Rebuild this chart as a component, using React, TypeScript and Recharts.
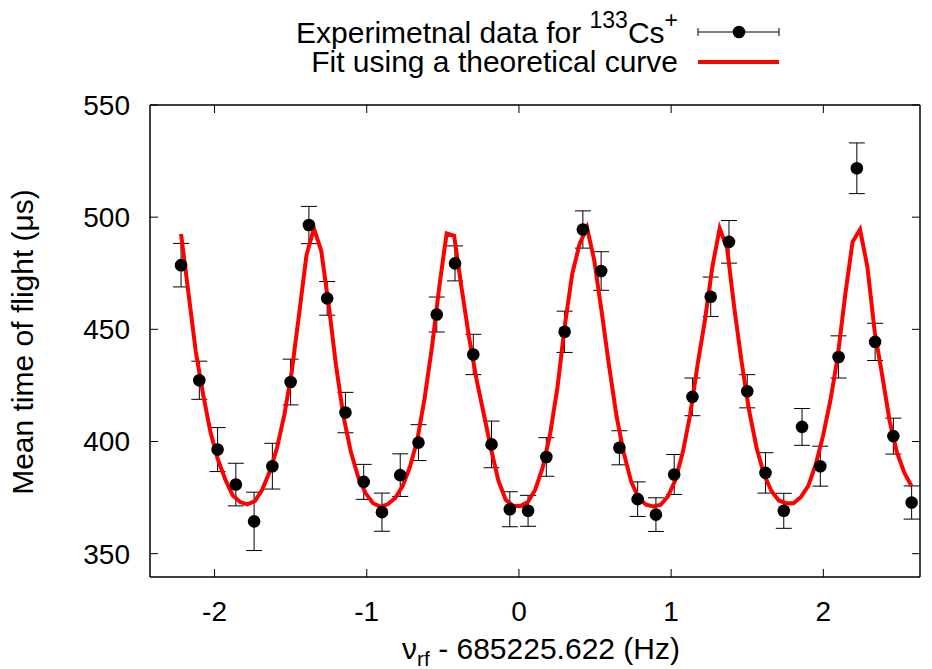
import React from "react";
import {
  ComposedChart,
  Line,
  Scatter,
  ErrorBar,
  XAxis,
  YAxis,
} from "recharts";

// measured points (x offset in Hz, mean TOF in µs, error)
const dataX = [
  -2.22, -2.1, -1.98, -1.86, -1.74, -1.62, -1.5, -1.38, -1.26, -1.14, -1.02,
  -0.9, -0.78, -0.66, -0.54, -0.42, -0.3, -0.18, -0.06, 0.06, 0.18, 0.3, 0.42,
  0.54, 0.66, 0.78, 0.9, 1.02, 1.14, 1.26, 1.38, 1.5, 1.62, 1.74, 1.86, 1.98,
  2.1, 2.22, 2.34, 2.46, 2.58,
];
const dataY = [
  478.6, 427.3, 396.4, 380.8, 364.4, 389, 426.5, 496.5, 463.8, 412.9, 382,
  368.5, 385, 399.5, 456.6, 479.4, 438.8, 398.7, 369.8, 369.1, 393.1, 448.9,
  494.5, 476, 397.2, 374.3, 367.4, 385.3, 419.9, 464.5, 489, 422.4, 386, 369.1,
  406.5, 389, 437.7, 521.8, 444.4, 402.4, 372.8,
];
const dataErr = [
  9.7, 8.5, 9.8, 9.5, 13, 10.2, 10.2, 8.3, 7.5, 9, 7.8, 8.5, 9.5, 8, 7.8, 7.8,
  9, 10.4, 7.8, 6.9, 8.6, 9.2, 8.3, 8.6, 7.6, 7.7, 7.5, 8.9, 8.4, 8.8, 9.5, 7.4,
  9, 7.8, 8.2, 8.9, 9.4, 11.3, 8.3, 8, 7.4,
];

// fitted curve
const fitX = [
  -2.22, -2.172, -2.123, -2.075, -2.026, -1.978, -1.929, -1.881, -1.832,
  -1.784, -1.735, -1.687, -1.638, -1.59, -1.541, -1.493, -1.444, -1.396,
  -1.347, -1.299, -1.25, -1.202, -1.153, -1.105, -1.056, -1.008, -0.959,
  -0.911, -0.862, -0.814, -0.765, -0.717, -0.668, -0.62, -0.571, -0.523,
  -0.475, -0.426, -0.378, -0.329, -0.281, -0.232, -0.184, -0.135, -0.087,
  -0.038, 0.01, 0.059, 0.107, 0.156, 0.204, 0.253, 0.301, 0.35, 0.398, 0.447,
  0.495, 0.544, 0.592, 0.641, 0.689, 0.738, 0.786, 0.835, 0.883, 0.932, 0.98,
  1.028, 1.077, 1.125, 1.174, 1.222, 1.271, 1.319, 1.368, 1.416, 1.465, 1.513,
  1.562, 1.61, 1.659, 1.707, 1.756, 1.804, 1.853, 1.901, 1.95, 1.998, 2.047,
  2.095, 2.144, 2.192, 2.241, 2.289, 2.338, 2.386, 2.435, 2.483, 2.532, 2.58,
];
const fitY = [
  492.5, 466.5, 440, 421, 404, 392, 383, 376, 373, 372, 373.4, 378.5, 386.5,
  397, 412, 431, 457, 483, 495, 485, 461, 434, 411.3, 395.5, 384.2, 377, 372.5,
  371, 372, 374.7, 380, 388.5, 400.6, 419.1, 442.3, 469.1, 492.8, 491.7, 469,
  446.9, 428.5, 412.6, 396.9, 382.5, 374, 371.3, 371.2, 373, 378.5, 388.3, 403,
  424, 451.5, 474.6, 488, 495.5, 480.7, 457.6, 433.8, 411.4, 394.8, 382, 374.8,
  371.8, 371.1, 371.8, 375.6, 382.9, 395.3, 412, 434.3, 454.1, 478, 495, 486,
  459, 434.5, 413.5, 397, 385.4, 377.9, 373.7, 372.5, 372.5, 375.3, 380.2,
  389.8, 402.5, 418.6, 438, 465.5, 489, 494.5, 478, 448.7, 429.8, 409.3, 395.2,
  386.1, 380,
];

const xTicks = [-2, -1, 0, 1, 2];
const yTicks = [350, 400, 450, 500, 550];

const points = dataX.map((x, i) => ({ x, y: dataY[i], err: dataErr[i] }));
const fit = fitX.map((x, i) => ({ x, y: fitY[i] }));

const FONT = "'Liberation Sans', Arial, Helvetica, sans-serif";
const X_DOMAIN = [-2.424, 2.635];
const Y_DOMAIN = [339.6, 550];
const TICK_LEN = 8;

const Dot = (props: any) => (
  <circle cx={props.cx} cy={props.cy} r={6.3} fill="#000" />
);

// axes are mirrored so tick marks point inwards, labels are moved back outside
const XTick = (props: any) => (
  <text
    x={props.x}
    y={props.y + 34 + TICK_LEN}
    dy="0.355em"
    textAnchor="middle"
    fontSize={28}
    fontFamily={FONT}
    fill="#000"
  >
    {props.payload.value}
  </text>
);

const YTick = (props: any) => (
  <text
    x={props.x - 20 - TICK_LEN}
    y={props.y}
    dy="0.355em"
    textAnchor="end"
    fontSize={28}
    fontFamily={FONT}
    fill="#000"
  >
    {props.payload.value}
  </text>
);

// top/right axes: tick marks only (tick={false} drops the marks too)
const NoLabel = () => <g />;

const YTitle = () => (
  <text
    x={33}
    y={342}
    transform="rotate(-90, 33, 342)"
    textAnchor="middle"
    fontSize={30}
    fontFamily={FONT}
    fill="#000"
  >
    Mean time of flight (μs)
  </text>
);

const XTitle = () => (
  <text
    x={541}
    y={659}
    textAnchor="middle"
    fontSize={30}
    fontFamily={FONT}
    fill="#000"
  >
    ν
    <tspan dy={7} fontSize={21}>
      rf
    </tspan>
    <tspan dy={-7} fontSize={30}>
      {" - 685225.622 (Hz)"}
    </tspan>
  </text>
);

function LegendBox() {
  return (
    <svg
      width={932}
      height={90}
      style={{ position: "absolute", left: 0, top: 0 }}
    >
      <text
        x={678}
        y={43}
        textAnchor="end"
        fontSize={30}
        fontFamily={FONT}
        fill="#000"
      >
        Experimetnal data for{" "}
        <tspan dy={-15} fontSize={23}>
          133
        </tspan>
        <tspan dy={15} fontSize={30}>
          Cs
        </tspan>
        <tspan dy={-15} fontSize={23}>
          +
        </tspan>
      </text>
      <line x1={698} x2={779} y1={32} y2={32} stroke="#000" strokeWidth={1} />
      <line x1={698} x2={698} y1={28} y2={36} stroke="#000" strokeWidth={1} />
      <line x1={779} x2={779} y1={28} y2={36} stroke="#000" strokeWidth={1} />
      <circle cx={739} cy={32} r={6.3} fill="#000" />

      <text
        x={678}
        y={72}
        textAnchor="end"
        fontSize={30}
        fontFamily={FONT}
        fill="#000"
      >
        Fit using a theoretical curve
      </text>
      <line x1={698} x2={779} y1={62} y2={62} stroke="#ff0000" strokeWidth={4} />
    </svg>
  );
}

export default function App() {
  const axisLine = { stroke: "#000", strokeWidth: 1.5 };
  const tickLine = { stroke: "#000", strokeWidth: 1 };

  return (
    <div
      style={{
        position: "absolute",
        left: 0,
        top: 0,
        width: 932,
        height: 669,
        background: "#fff",
      }}
    >
      <ComposedChart
        width={932}
        height={669}
        margin={{ top: 105, right: 12, bottom: 92, left: 150 }}
      >
        <XAxis
          xAxisId="main"
          dataKey="x"
          type="number"
          orientation="bottom"
          mirror
          domain={X_DOMAIN}
          allowDataOverflow
          ticks={xTicks}
          interval={0}
          height={TICK_LEN}
          tickSize={TICK_LEN}
          tickMargin={0}
          tick={<XTick />}
          stroke="#000"
          axisLine={axisLine}
          tickLine={tickLine}
          label={{ content: () => <XTitle /> }}
        />
        <XAxis
          xAxisId="top"
          dataKey="x"
          orientation="top"
          mirror
          type="number"
          domain={X_DOMAIN}
          allowDataOverflow
          ticks={xTicks}
          interval={0}
          height={TICK_LEN}
          tickSize={TICK_LEN}
          tickMargin={0}
          tick={<NoLabel />}
          stroke="#000"
          axisLine={axisLine}
          tickLine={tickLine}
        />
        <YAxis
          yAxisId="main"
          type="number"
          orientation="left"
          mirror
          domain={Y_DOMAIN}
          allowDataOverflow
          ticks={yTicks}
          interval={0}
          width={TICK_LEN}
          tickSize={TICK_LEN}
          tickMargin={0}
          tick={<YTick />}
          stroke="#000"
          axisLine={axisLine}
          tickLine={tickLine}
          label={{ content: () => <YTitle /> }}
        />
        <YAxis
          yAxisId="right"
          orientation="right"
          mirror
          type="number"
          domain={Y_DOMAIN}
          allowDataOverflow
          ticks={yTicks}
          interval={0}
          width={TICK_LEN}
          tickSize={TICK_LEN}
          tickMargin={0}
          tick={<NoLabel />}
          stroke="#000"
          axisLine={axisLine}
          tickLine={tickLine}
        />

        {/* invisible copy on the mirror axes so they get a scale */}
        <Line
          xAxisId="top"
          yAxisId="right"
          data={fit}
          dataKey="y"
          stroke="none"
          dot={false}
          activeDot={false}
          legendType="none"
          isAnimationActive={false}
        />

        <Scatter
          xAxisId="main"
          yAxisId="main"
          data={points}
          dataKey="y"
          shape={Dot}
          isAnimationActive={false}
        >
          <ErrorBar
            dataKey="err"
            direction="y"
            width={8}
            stroke="#000"
            strokeWidth={1}
            isAnimationActive={false}
          />
        </Scatter>
        <Line
          xAxisId="main"
          yAxisId="main"
          data={fit}
          dataKey="y"
          type="linear"
          stroke="#ff0000"
          strokeWidth={4}
          dot={false}
          activeDot={false}
          isAnimationActive={false}
        />
      </ComposedChart>
      <LegendBox />
    </div>
  );
}
